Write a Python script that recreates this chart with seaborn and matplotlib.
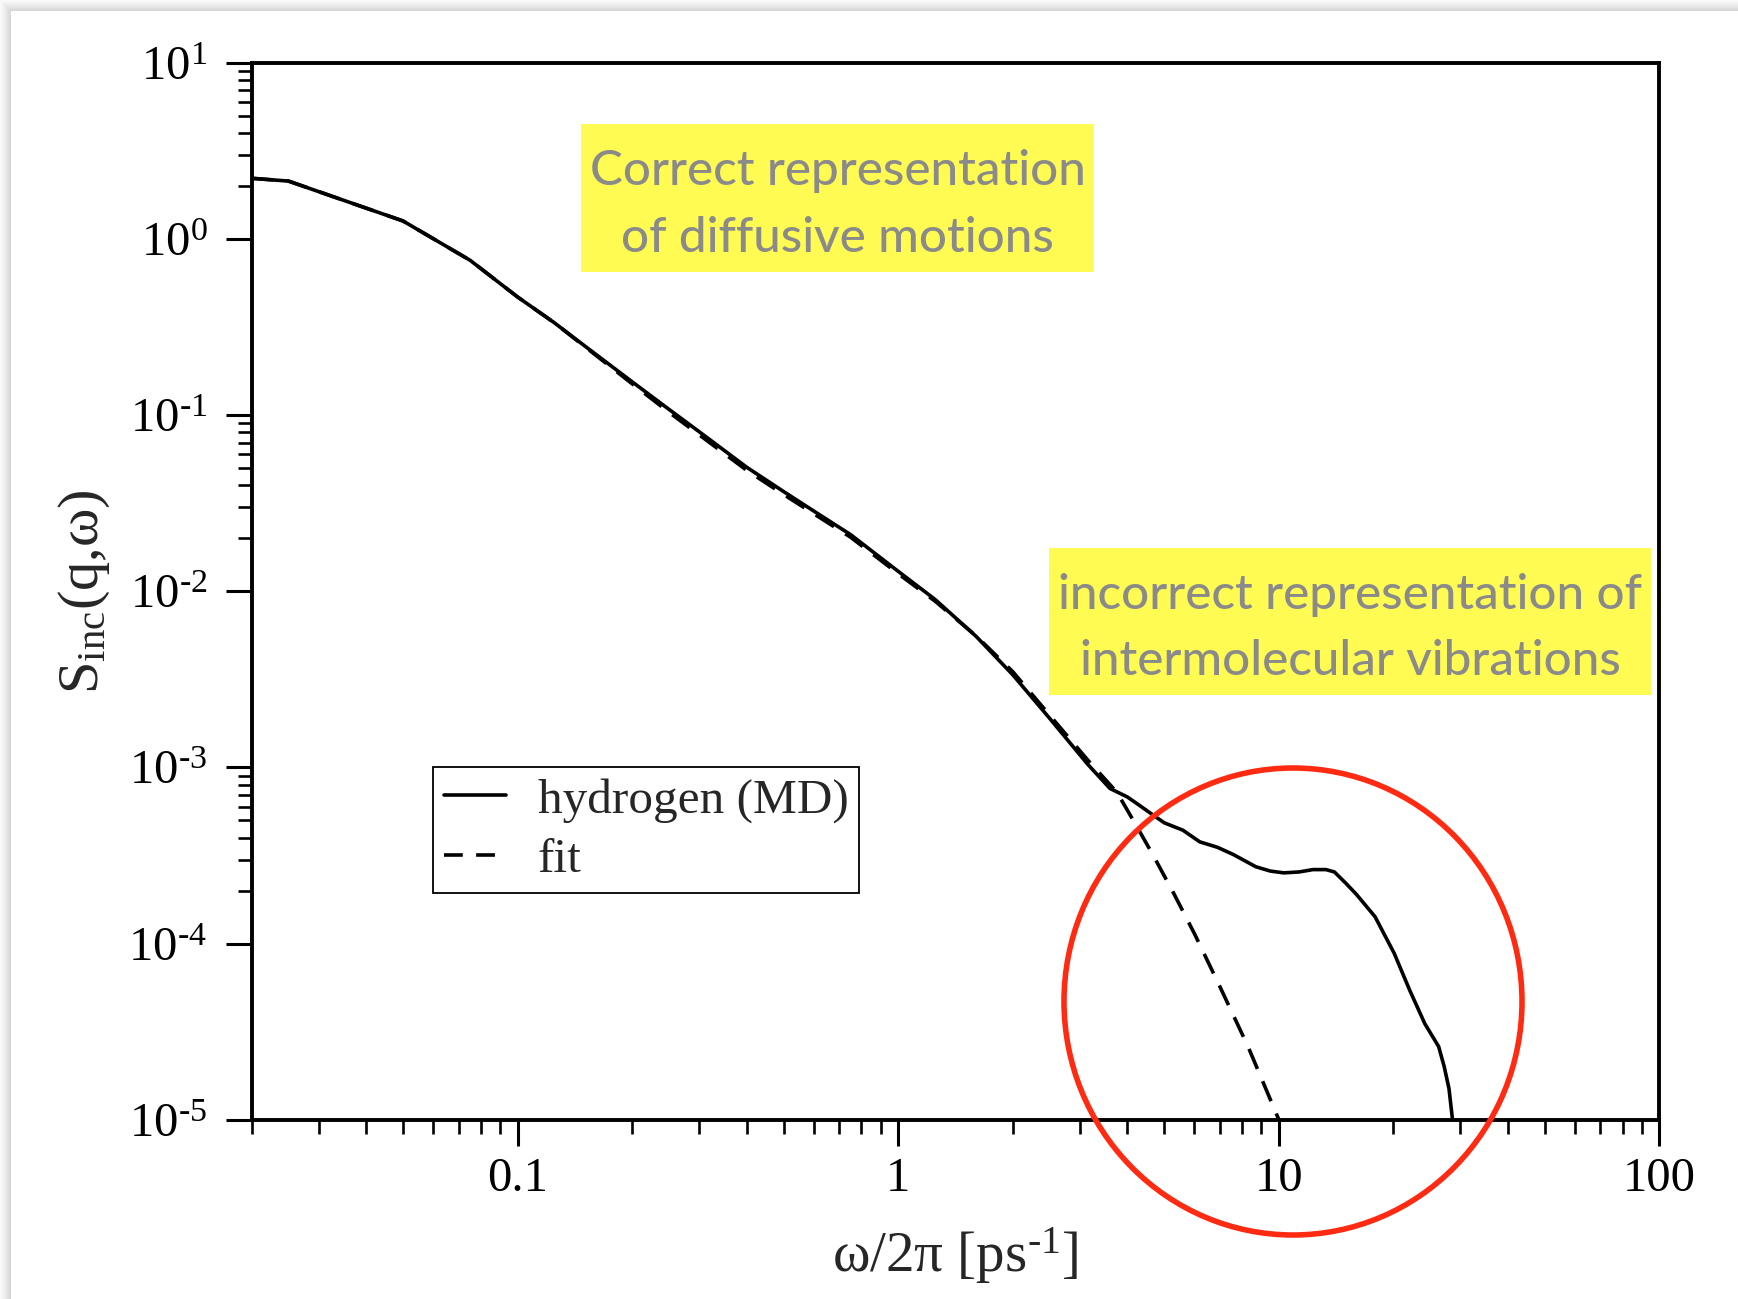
import matplotlib
matplotlib.use("Agg")
import numpy as np
import pandas as pd
import seaborn as sns
import matplotlib.pyplot as plt
from matplotlib.patches import Rectangle, Ellipse
from matplotlib.lines import Line2D
from matplotlib.ticker import FixedLocator, FixedFormatter
from matplotlib.transforms import IdentityTransform

# ---- data -------------------------------------------------------------
# MD incoherent dynamic structure factor of hydrogen
freq_md = [0.02, 0.025, 0.05, 0.075, 0.1, 0.125, 0.15, 0.2, 0.25, 0.3, 0.4,
           0.5, 0.6, 0.75, 1.0, 1.25, 1.6, 2.0, 2.5, 3.15, 3.6, 4.0,
           4.3, 4.6, 5.0, 5.6, 6.2, 6.9, 7.6, 8.7, 9.5, 10.3, 11.3, 12.3,
           13.3, 14.0, 15.0, 16.0, 17.9, 20.1, 22.1, 24.2, 26.3, 27.2, 28.0,
           28.6]
s_md = [2.22, 2.14, 1.27, 0.76, 0.47, 0.335, 0.248, 0.155, 0.108, 0.0807,
        0.0507, 0.0369, 0.0286, 0.0210, 0.0130, 0.0090, 0.00557, 0.00336,
        0.0019, 0.00104, 7.6e-4, 6.8e-4, 6.1e-4, 5.5e-4,
        4.85e-4, 4.4e-4, 3.78e-4, 3.52e-4, 3.2e-4, 2.73e-4, 2.58e-4, 2.52e-4,
        2.55e-4, 2.63e-4, 2.63e-4, 2.55e-4, 2.2e-4, 1.9e-4, 1.42e-4, 8.8e-5,
        5.4e-5, 3.5e-5, 2.6e-5, 2.0e-5, 1.5e-5, 1.0e-5]

# model fit
freq_fit = [0.02, 0.025, 0.05, 0.075, 0.1, 0.125, 0.15, 0.2, 0.25, 0.3, 0.4,
            0.5, 0.6, 0.75, 1.0, 1.25, 1.6, 2.0, 2.5, 3.15, 3.76, 4.2,
            4.68, 5.3, 6.0, 7.0, 8.3, 10.0]
s_fit = [2.22, 2.14, 1.27, 0.76, 0.47, 0.335, 0.246, 0.151, 0.104, 0.0775,
         0.0487, 0.0355, 0.0276, 0.0203, 0.0126, 0.0088, 0.0056, 0.0035,
         0.00198, 0.00110, 7.2e-4, 4.77e-4, 3.16e-4,
         1.92e-4, 1.14e-4, 5.7e-5, 2.6e-5, 1.0e-5]

x_major = [0.1, 1, 10, 100]
x_major_labels = ["0.1", "1", "10", "100"]
y_exponents = [-5, -4, -3, -2, -1, 0, 1]
y_minor_decades = [0, -2, -4]
legend_labels = ["hydrogen (MD)", "fit"]
note_diffusive = ["Correct representation", "of diffusive motions"]
note_vibrations = ["incorrect representation of", "intermolecular vibrations"]

# ---- style ------------------------------------------------------------
sns.set_style("ticks")
plt.rcParams.update({
    "font.family": ["Liberation Serif", "DejaVu Serif"],
    "mathtext.fontset": "custom",
    "mathtext.rm": "Liberation Serif",
    "mathtext.it": "Liberation Serif:italic",
    "mathtext.bf": "Liberation Serif:bold",
    "axes.edgecolor": "black",
    "axes.linewidth": 2.8,
    "xtick.color": "black",
    "ytick.color": "black",
})

W, H = 1738, 1299
fig = plt.figure(figsize=(W / 100, H / 100), dpi=100)
fig.patch.set_facecolor("white")

# soft shadow along the top and left edges of the page
shade = ["#d6d6d6", "#dadada", "#dfdfdf", "#e3e3e3", "#e7e7e7",
         "#eaeaea", "#eeeeee", "#f1f1f1", "#f4f4f4", "#f7f7f7", "#fafafa"]
for i, c in enumerate(shade):
    fig.add_artist(Rectangle((0, H - 11 + i), W, 1, transform=IdentityTransform(),
                             facecolor=c, edgecolor="none", zorder=-5))
    fig.add_artist(Rectangle((11 - i - 1, 0), 1, H, transform=IdentityTransform(),
                             facecolor=c, edgecolor="none", zorder=-5))

ax_l, ax_r, ax_t, ax_b = 251.6, 1659.4, 63.2, 1119.6
ax = fig.add_axes([ax_l / W, 1 - ax_b / H, (ax_r - ax_l) / W, (ax_b - ax_t) / H])

LW = 2.6
md = pd.DataFrame({"freq": freq_md, "S": s_md})
fit = pd.DataFrame({"freq": freq_fit, "S": s_fit})
sns.lineplot(data=md, x="freq", y="S", ax=ax, color="black", linewidth=LW,
             sort=False, estimator=None)
sns.lineplot(data=fit, x="freq", y="S", ax=ax, color="black", linewidth=LW,
             linestyle=(0, (6, 3.7)), sort=False, estimator=None)

ax.set_xscale("log")
ax.set_yscale("log")
ax.set_xlim(0.02, 100)
ax.set_ylim(1e-5, 10)

ax.xaxis.set_major_locator(FixedLocator(x_major))
ax.xaxis.set_major_formatter(FixedFormatter(x_major_labels))
x_minor = [m * 10.0 ** e for e in (-2, -1, 0, 1) for m in range(2, 10)]
ax.xaxis.set_minor_locator(FixedLocator(x_minor))
ax.yaxis.set_major_locator(FixedLocator([10.0 ** e for e in y_exponents]))
ax.yaxis.set_major_formatter(FixedFormatter(
    [r"$\mathregular{10^{%s}}$" % str(e).replace("-", "\u2010") for e in y_exponents]))
y_minor = [m * 10.0 ** e for e in y_minor_decades for m in range(2, 10)]
ax.yaxis.set_minor_locator(FixedLocator(y_minor))
ax.xaxis.set_minor_formatter(FixedFormatter([""] * len(x_minor)))
ax.yaxis.set_minor_formatter(FixedFormatter([""] * len(y_minor)))

ax.tick_params(which="major", direction="out", length=19, width=2.2,
               labelsize=35, top=False, right=False)
ax.tick_params(which="minor", direction="out", length=10, width=1.9,
               top=False, right=False)
ax.tick_params(axis="x", which="major", pad=8)
ax.tick_params(axis="y", which="major", pad=13)
ax.grid(False)
for sp in ax.spines.values():
    sp.set_visible(True)
    sp.set_linewidth(2.8)

ax.set_xlabel("ω/2π [ps$^{\\mathregular{\u20101}}$]", fontsize=41, labelpad=17)
ax.set_ylabel("$\\mathregular{S_{inc}}$(q,ω)", fontsize=42, labelpad=12)

handles = [Line2D([], [], color="black", linewidth=LW),
           Line2D([], [], color="black", linewidth=LW, linestyle=(0, (5.2, 3.7)))]
leg = ax.legend(handles, legend_labels, loc="upper left",
                bbox_to_anchor=(0.1291, 0.3337), borderaxespad=0,
                fontsize=35.5, frameon=True, fancybox=False, handlelength=1.25,
                handletextpad=0.65, borderpad=0.22, labelspacing=0.3)
leg.get_frame().set_edgecolor("black")
leg.get_frame().set_linewidth(1.3)
leg.get_frame().set_facecolor("white")
leg.get_frame().set_alpha(1)

# highlighted notes
yellow = "#fffb52"
grey = "#8a8a8a"
boxes = [
    ((581, 124, 1094, 272), note_diffusive, (185, 251.7)),
    ((1049, 548, 1651, 695), note_vibrations, (609.3, 675)),
]
for (x0, y0, x1, y1), lines, baselines in boxes:
    fig.add_artist(Rectangle((x0 / W, 1 - y1 / H), (x1 - x0) / W, (y1 - y0) / H,
                             transform=fig.transFigure, facecolor=yellow,
                             edgecolor="none", zorder=3))
    xc = (x0 + x1) / 2 / W
    for line, yb in zip(lines, baselines):
        fig.text(xc, 1 - yb / H, line, ha="center", va="baseline",
                 fontsize=35.5, color=grey, family=["Lato", "DejaVu Sans"],
                 fontweight="medium", zorder=4)

# red ring around the vibrational region
fig.add_artist(Ellipse((1293 / W, 1 - 1001.5 / H), 458 / W, 467 / H,
                       transform=fig.transFigure, facecolor="none",
                       edgecolor="#ff2a12", linewidth=4.0, zorder=5))

fig.savefig("out.png", dpi=100)
